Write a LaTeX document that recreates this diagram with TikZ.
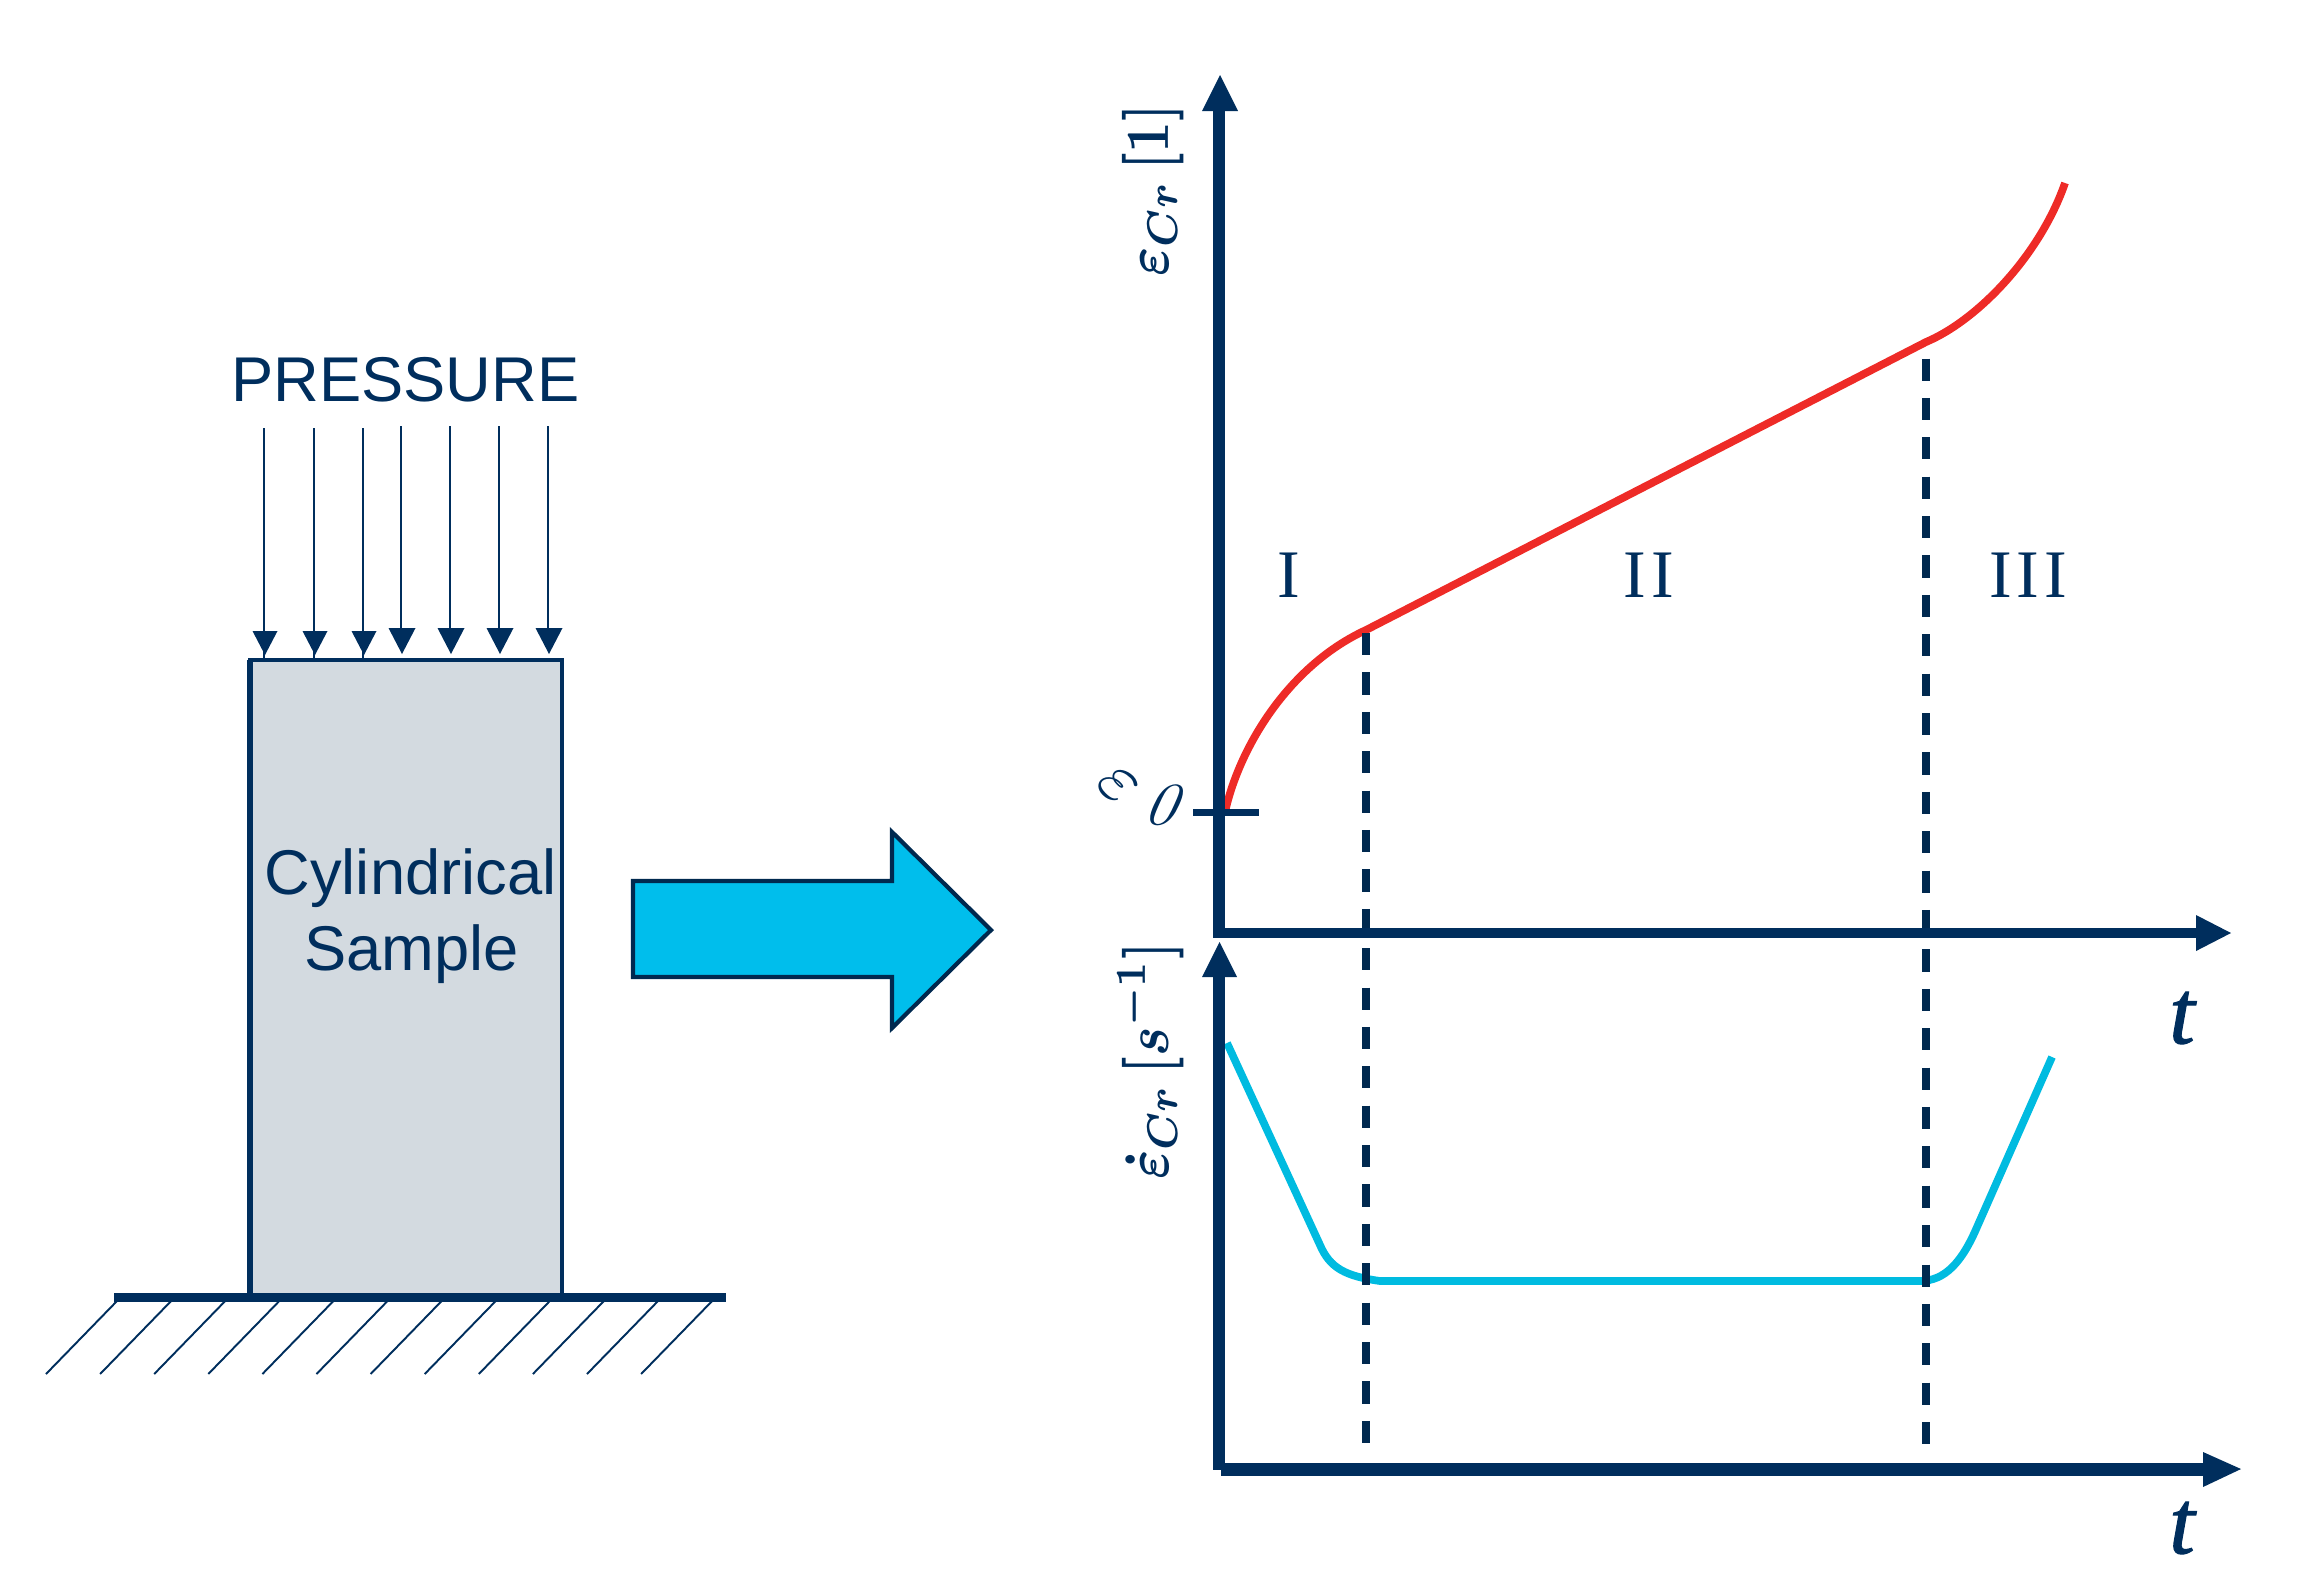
\documentclass[tikz,border=0pt]{standalone}
\usepackage{fontspec}
\setmainfont{Liberation Sans}
\newfontfamily\romanlabel{Liberation Serif}
\newfontfamily\timefont[FakeBold=1.2]{Liberation Serif Italic}
\definecolor{navy}{HTML}{002E5D}
\definecolor{dashnavy}{HTML}{00294F}
\definecolor{sampleGrey}{HTML}{D3DAE0}
\definecolor{bigCyan}{HTML}{00BEEC}
\definecolor{rateCyan}{HTML}{00BBE0}
\definecolor{strainRed}{HTML}{EE2B27}
\newcommand{\fs}[1]{\fontsize{#1}{#1}\selectfont}
\newsavebox{\ylabA}
\newsavebox{\ylabB}
\sbox{\ylabA}{\color{navy}\boldmath$\varepsilon_{Cr}\,[1]$}
\sbox{\ylabB}{\color{navy}\boldmath$\dot\varepsilon_{Cr}\,[s^{-1}]$}
\tikzset{
  x=0.02cm, y=-0.02cm,
  axisline/.style={navy, line width=6.8pt},
  axishead/.style={fill=navy, draw=none},
  guide/.style={dashnavy, line width=4.4pt, dash pattern=on 12.6pt off 9.82pt},
  hatchline/.style={navy, line width=1.1pt},
  loadarrow/.style={navy, line width=1.6pt},
  loadhead/.style={fill=navy, draw=none},
  sans/.style={navy, anchor=base, inner sep=0pt, font=\fs{36}},
  roman/.style={navy, anchor=center, inner sep=0pt, font=\romanlabel\fs{38.7}},
  axislabel/.style={navy, anchor=center, inner sep=0pt, rotate=90, xscale=3.15, yscale=3.5},
  tlabel/.style={navy, anchor=center, inner sep=0pt, font=\timefont\fs{52}},
}
\begin{document}
\begin{tikzpicture}
\useasboundingbox (0,0) rectangle (2304,1593);

% --- sample ---
\draw[navy, line width=2.4pt, fill=sampleGrey] (250,1296) |- (562,660) -- (562,1296);
\draw[navy, line width=3.4pt] (250,660) -- (250,1296);
\draw[navy, line width=5pt] (114,1297.5) -- (726,1297.5);
\foreach \i in {0,...,11}
  \draw[hatchline] ({117+54.1*\i},1301) -- ({46+54.1*\i},1374);

% --- pressure arrows ---
\foreach \n/\x/\t/\hb/\ht/\hw in {a/264/428/631/655/12.5,b/314/428/631/655/12.5,c/363/428/631/655/12.5,d/401/426/628/654/13.5,e/450/426/628/654/13.5,f/499/426/628/654/13.5,g/548/426/628/654/13.5}{
  \coordinate (top\n) at (\x,\t);
  \coordinate (end\n) at (\x,\hb);
  \draw[loadarrow] (top\n) -- (end\n);
  \fill[loadhead] (\x-\hw+1,\hb) -- (\x+\hw+1,\hb) -- (\x+1,\ht) -- cycle;
}
\foreach \x in {264,314,363}
  \draw[loadarrow] (\x,650) -- (\x,660);

\node[sans] (pressure) at (405.5,401) {PRESSURE};
\node[sans] (cyl) at (410.5,894) {Cylindrical};
\node[sans] (smp) at (411.5,970) {Sample};

% --- big arrow ---
\draw[draw=dashnavy, line width=2.4pt, fill=bigCyan, miter limit=10]
  (633,881) -- (892,881) -- (892,832) -- (991,930) -- (892,1028) -- (892,977) -- (633,977) -- cycle;

% --- curves ---
\draw[strainRed, line width=4.4pt]
  (1225,812) .. controls (1240,745) and (1290,665) .. (1366,630)
  -- (1926,342) .. controls (1978,320) and (2040,255) .. (2065,183);
\draw[rateCyan, line width=4.4pt]
  (1227,1043) -- (1320,1245) .. controls (1330,1268) and (1345,1276) .. (1380,1281)
  -- (1920,1281) .. controls (1945,1281) and (1962,1262) .. (1977,1227) -- (2052,1057);

% --- guides ---
\draw[guide] (1366,633) -- (1366,1444);
\draw[guide] (1926,358.5) -- (1926,1444);

% --- axes ---
\draw[navy, line width=4pt] (1193,812) -- (1259,812);
\draw[axisline] (1219,105) -- (1219,938);
\draw[navy, line width=6.2pt] (1213,933) -- (2200,933);
\fill[axishead] (1202,111) -- (1238,111) -- (1220,75) -- cycle;
\fill[axishead] (2196,915) -- (2196,951) -- (2231,933) -- cycle;

\draw[axisline] (1219,972) -- (1219,1470);
\draw[navy, line width=7.4pt] (1221,1469) -- (2208,1469);
\fill[axishead] (1202,977) -- (1237,977) -- (1219.5,942) -- cycle;
\fill[axishead] (2203,1452) -- (2203,1487) -- (2241,1469) -- cycle;

% --- labels ---
\node[axislabel] (ylab1) at (1153,190) {\usebox{\ylabA}};
\node[axislabel] (ylab2) at (1150,1061) {\usebox{\ylabB}};

\node[navy, inner sep=0pt, rotate=-45, scale=4.2] (eps0) at (1118,785) {$\varepsilon$};
\node[navy, inner sep=0pt, xslant=0.45, transform shape, scale=3.4] (zero0) at (1167,805) {$0$};

\node[roman] (r1) at (1289,575) {I};
\node[roman] (r2) at (1649,575) {I\kern2.8ptI};
\node[roman] (r3) at (2028,575) {I\kern2.8ptI\kern2.8ptI};

\node[tlabel] (t1) at (2182,1018) {t};
\node[tlabel] (t2) at (2182,1528) {t};
\end{tikzpicture}
\end{document}
